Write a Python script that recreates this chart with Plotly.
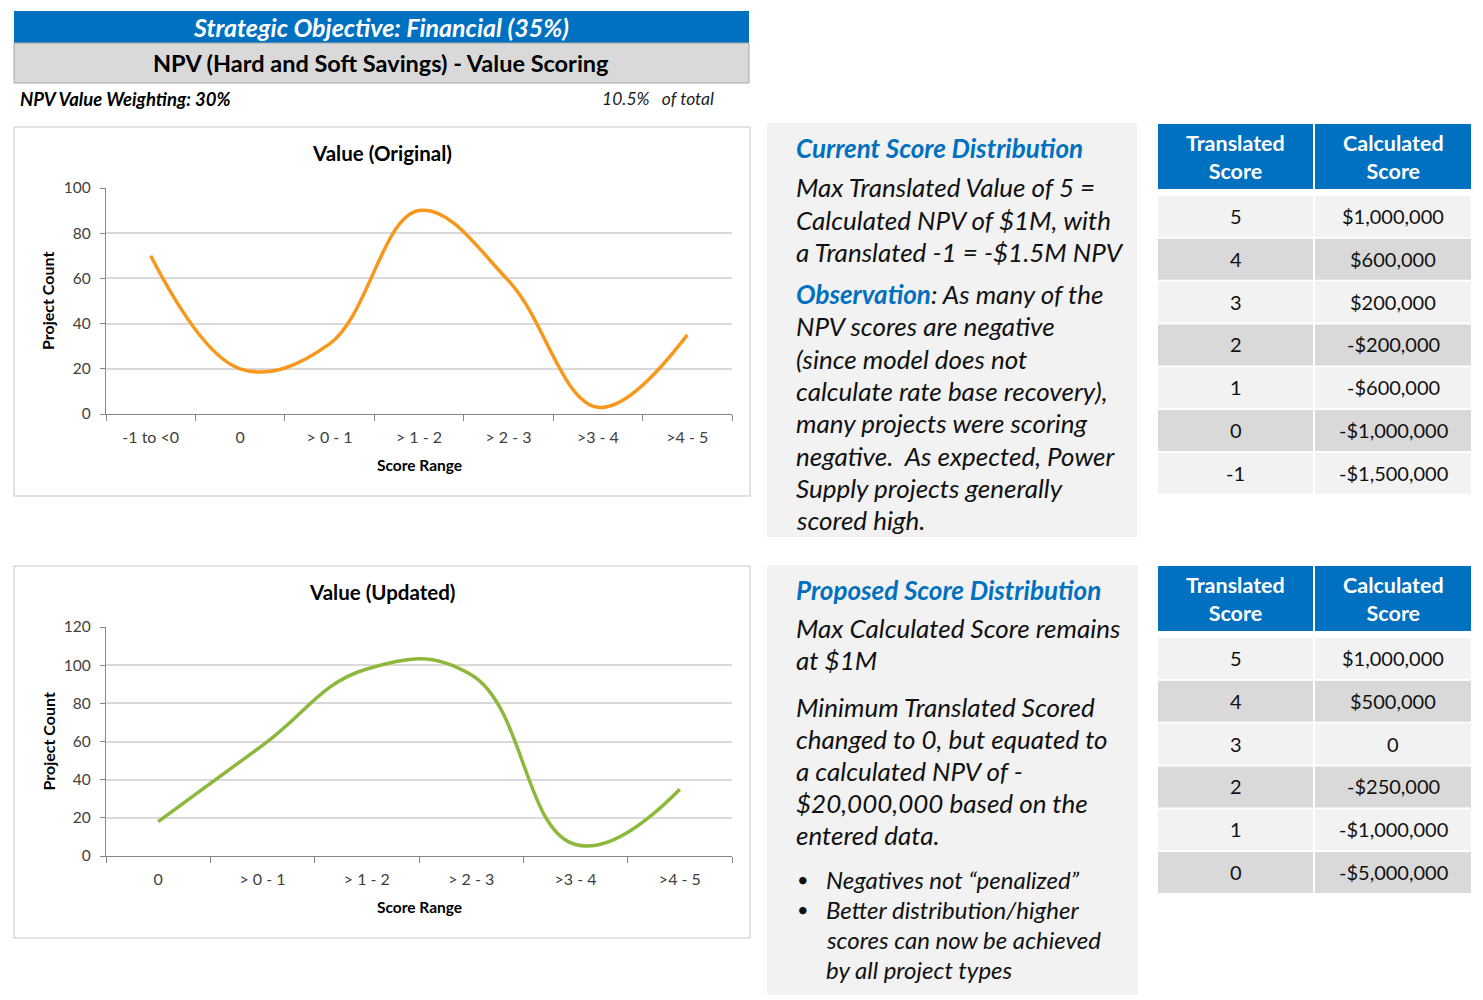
import plotly.graph_objects as go

# page size in px, everything placed in paper coords
W, H = 1483, 1000
OFF = 8  # the html body margin shifts the figure by 8px

def px(x):
    return (x - OFF) / W

def py(y):
    return 1 - (y - OFF) / H

# chart data
orig_ranges = ["-1 to <0", "0", "> 0 - 1", "> 1 - 2", "> 2 - 3", ">3 - 4", ">4 - 5"]
orig_counts = [70, 20, 31, 90, 59, 3, 35]
upd_ranges = ["0", "> 0 - 1", "> 1 - 2", "> 2 - 3", ">3 - 4", ">4 - 5"]
upd_counts = [18, 58, 98, 95, 6, 35]

# table data
cur_translated = ["5", "4", "3", "2", "1", "0", "-1"]
cur_calculated = ["$1,000,000", "$600,000", "$200,000", "-$200,000", "-$600,000", "-$1,000,000", "-$1,500,000"]
prop_translated = ["5", "4", "3", "2", "1", "0"]
prop_calculated = ["$1,000,000", "$500,000", "0", "-$250,000", "-$1,000,000", "-$5,000,000"]
table_headers = ["Translated<br>Score", "Calculated<br>Score"]

# text panels
cur_title = "Current Score Distribution"
cur_lines = ["Max Translated Value of 5 =", "Calculated NPV of $1M, with", "a Translated -1 = -$1.5M NPV"]
obs_lines = ["<span style='color:#0070C0'><b>Observation</b></span>: As many of the",
             "NPV scores are negative", "(since model does not",
             "calculate rate base recovery),", "many projects were scoring",
             "negative.\u00a0 As expected, Power", "Supply projects generally", "scored high."]
prop_title = "Proposed Score Distribution"
prop_lines = ["Max Calculated Score remains", "at $1M"]
min_lines = ["Minimum Translated Scored", "changed to 0, but equated to", "a calculated NPV of -",
             "$20,000,000 based on the", "entered data."]
bullet_items = [["Negatives not \u201cpenalized\u201d"],
                ["Better distribution/higher", "scores can now be achieved", "by all project types"]]

BLUE = "#0070C0"
FONT = "Lato"

fig = go.Figure()
shapes = []
ann = []

def rect(x0, y0, x1, y1, fill, line=None, lw=1):
    shapes.append(dict(type="rect", xref="paper", yref="paper",
                       x0=px(x0), x1=px(x1), y0=py(y1), y1=py(y0),
                       fillcolor=fill, line=dict(color=line or fill, width=lw if line else 0),
                       layer="below"))

def text(x, y, s, size, color="black", bold=False, italic=False, xanchor="left"):
    ann.append(dict(xref="paper", yref="paper", x=px(x), y=py(y), text=s, showarrow=False,
                    xanchor=xanchor, yanchor="middle", align=xanchor if xanchor != "center" else "center",
                    font=dict(family=FONT, size=size, color=color,
                              weight="bold" if bold else "normal",
                              style="italic" if italic else "normal")))

# header banners
rect(14, 11, 749, 43, BLUE)
text(381, 27, "Strategic Objective: Financial (35%)", 25, "white", bold=True, italic=True, xanchor="center")
rect(14, 43, 749, 83, "#D9D9D9", "#A6A6A6", 1)
text(381, 63, "NPV (Hard and Soft Savings) - Value Scoring", 23.5, "black", bold=True, xanchor="center")
text(18, 99, "NPV Value Weighting: 30%", 18.5, bold=True, italic=True)
text(600, 99, "10.5%\u00a0\u00a0 of total", 17.5, "#222222", italic=True)

# chart boxes
rect(14, 127, 750, 496, "white", "#D9D9D9", 1.5)
rect(14, 566, 750, 938, "white", "#D9D9D9", 1.5)

def add_chart(n, cats, vals, color, top, bottom, ymax, title, title_y, smooth):
    xa = "x" if n == 1 else "x%d" % n
    ya = "y" if n == 1 else "y%d" % n
    fig.add_trace(go.Scatter(x=cats, y=vals, mode="lines", xaxis=xa, yaxis=ya,
                             line=dict(color=color, width=3.5, shape="spline", smoothing=smooth),
                             showlegend=False, hoverinfo="x+y"))
    key = "" if n == 1 else str(n)
    fig.update_layout(**{
        "xaxis" + key: dict(domain=[px(106), px(732)], anchor=ya, type="category",
                            range=[-0.5, len(cats) - 0.5], automargin=False,
                            showline=True, linecolor="#868686", linewidth=1.2,
                            ticks="outside", tickson="boundaries", ticklen=6, tickcolor="#868686",
                            showgrid=False, ticklabelstandoff=9,
                            tickfont=dict(family=FONT, size=16, color="#404040"), fixedrange=True),
        "yaxis" + key: dict(domain=[py(bottom), py(top)], anchor=xa, range=[0, ymax], dtick=20,
                            automargin=False, ticklabelstandoff=6,
                            showline=True, linecolor="#868686", linewidth=1.2,
                            ticks="outside", ticklen=5, tickcolor="#868686",
                            gridcolor="#D9D9D9", gridwidth=1.5, zeroline=False,
                            tickfont=dict(family=FONT, size=15.5, color="#404040"), fixedrange=True),
    })
    text(382, title_y, title, 20.5, "black", bold=True, xanchor="center")
    ann.append(dict(xref="paper", yref="paper", x=px(48), y=py((top + bottom) / 2),
                    xanchor="center", yanchor="middle",
                    text="Project Count", textangle=-90, showarrow=False,
                    font=dict(family=FONT, size=16, color="black", weight="bold")))
    text(419, bottom + 51, "Score Range", 15.5, "black", bold=True, xanchor="center")

add_chart(1, orig_ranges, orig_counts, "#F7981D", 188, 414, 100, "Value (Original)", 153, 1.1)
add_chart(2, upd_ranges, upd_counts, "#8CB83C", 627, 856, 120, "Value (Updated)", 592, 1.25)

# text panels
rect(767, 123, 1137, 537, "#F2F2F2")
rect(767, 565, 1138, 995, "#F2F2F2")
BODY = 26
text(794, 148, cur_title, 26, BLUE, bold=True, italic=True)
for i, s in enumerate(cur_lines):
    text(794, 187 + 32.5 * i, s, BODY, "#111111", italic=True)
for i, s in enumerate(obs_lines):
    text(794, 294 + 32.3 * i, s, BODY, "#111111", italic=True)

text(794, 590, prop_title, 26, BLUE, bold=True, italic=True)
for i, s in enumerate(prop_lines):
    text(794, 628 + 32 * i, s, BODY, "#111111", italic=True)
for i, s in enumerate(min_lines):
    text(794, 707 + 32 * i, s, BODY, "#111111", italic=True)
by = 879
for item in bullet_items:
    text(795, by, "\u2022", 20, "#111111")
    for s in item:
        text(824, by, s, 24, "#111111", italic=True)
        by += 30

# score tables
def add_table(top, translated, calculated):
    cols = [(1158, 1313), (1315, 1471)]
    for (x0, x1), h in zip(cols, table_headers):
        rect(x0, top, x1, top + 65, BLUE)
        text((x0 + x1) / 2, top + 33, h, 21.5, "white", bold=True, xanchor="center")
    row0 = top + 72
    for i, (t, c) in enumerate(zip(translated, calculated)):
        y0 = row0 + 42.8 * i
        fill = "#F2F2F2" if i % 2 == 0 else "#D9D9D9"
        for (x0, x1), v in zip(cols, [t, c]):
            rect(x0, y0, x1, y0 + 41, fill)
            text((x0 + x1) / 2, y0 + 20, v, 20, "#111111", xanchor="center")

add_table(124, cur_translated, cur_calculated)
add_table(566, prop_translated, prop_calculated)

fig.update_layout(width=W, height=H, margin=dict(l=0, r=0, t=0, b=0, autoexpand=False),
                  paper_bgcolor="white", plot_bgcolor="rgba(0,0,0,0)",
                  shapes=shapes, annotations=ann, font=dict(family=FONT))

fig.write_html("out.html")
